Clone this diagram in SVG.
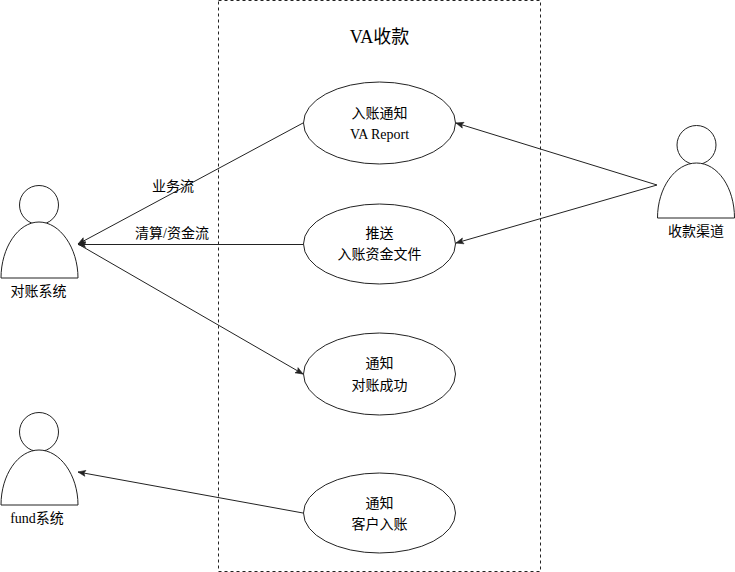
<svg xmlns="http://www.w3.org/2000/svg" width="735" height="572" viewBox="0 0 735 572">
<defs>
<marker id="arrowEnd" markerUnits="userSpaceOnUse" markerWidth="10" markerHeight="8" refX="9" refY="4" orient="auto"><path d="M1.500 1L9 4L1.500 7L3 4Z" fill="#222" stroke="#222" stroke-width="0.6"/></marker>
</defs>
<style>
text{font-family:"Liberation Serif","Noto Sans CJK SC",serif;font-size:14px;fill:#000;text-anchor:middle}
.s{fill:#fff;stroke:#222;stroke-width:1}
.c{fill:none;stroke:#222;stroke-width:1}
</style>
<rect width="735" height="572" fill="#fff"/>
<g id="boundary"><rect x="218.500" y="0.500" width="322" height="571" fill="none" stroke="#222" stroke-dasharray="3 3"/><text x="379.500" y="43" style="font-size:18px">VA收款</text></g>
<g id="connectors">
<path class="c" d="M303 123L78 244" marker-end="url(#arrowEnd)"/>
<path class="c" d="M303 244.500H78" marker-end="url(#arrowEnd)"/>
<path class="c" d="M78 244L303 374" marker-end="url(#arrowEnd)"/>
<path class="c" d="M657 185L456 123" marker-end="url(#arrowEnd)"/>
<path class="c" d="M657 185L456 243" marker-end="url(#arrowEnd)"/>
<path class="c" d="M303 513L78 472" marker-end="url(#arrowEnd)"/>
<text x="173" y="191">业务流</text>
<text x="172" y="238">清算/资金流</text>
</g>
<g id="actor-recon"><circle class="s" cx="39" cy="205" r="19.500"/><path class="s" d="M1 278C1 248 18 222 39 222C60 222 78 248 78 278Z"/><text x="38.500" y="296">对账系统</text></g>
<g id="actor-fund"><circle class="s" cx="39" cy="432" r="19.500"/><path class="s" d="M1 505C1 475 18 450 39 450C60 450 78 475 78 505Z"/><text x="37" y="523">fund系统</text></g>
<g id="actor-channel"><circle class="s" cx="696.500" cy="145" r="19.500"/><path class="s" d="M657.500 218C657.500 188 675 163 696.500 163C718 163 734.500 188 734.500 218Z"/><text x="696" y="236">收款渠道</text></g>
<g id="uc-notify"><ellipse class="s" cx="379.500" cy="123" rx="76" ry="41"/><text x="379.500" y="118">入账通知</text><text x="379.500" y="139">VA Report</text></g>
<g id="uc-push"><ellipse class="s" cx="379.500" cy="244" rx="76" ry="40"/><text x="379.500" y="238">推送</text><text x="379.500" y="259">入账资金文件</text></g>
<g id="uc-success"><ellipse class="s" cx="379.500" cy="374" rx="76" ry="41"/><text x="379.500" y="368">通知</text><text x="379.500" y="390">对账成功</text></g>
<g id="uc-credit"><ellipse class="s" cx="379.500" cy="513" rx="76" ry="40"/><text x="379.500" y="508">通知</text><text x="379.500" y="529">客户入账</text></g>
</svg>
